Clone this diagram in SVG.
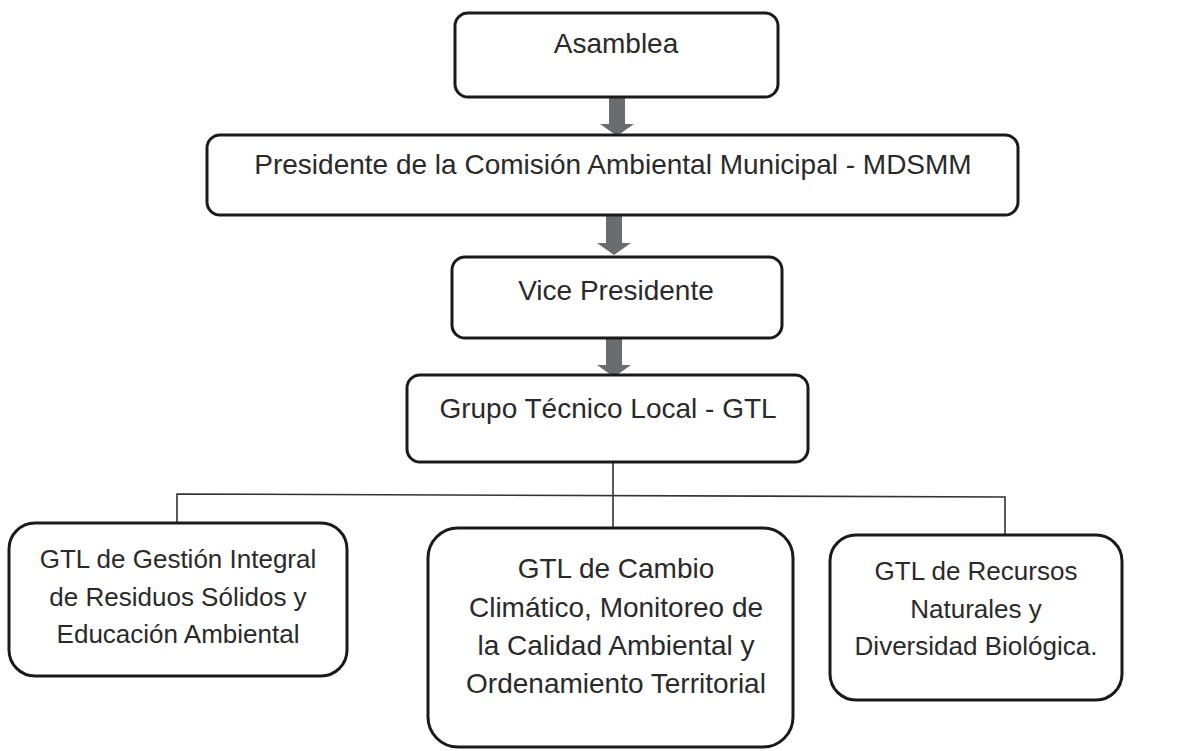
<svg xmlns="http://www.w3.org/2000/svg" width="1186" height="751" viewBox="0 0 1186 751">
<style>
.box{fill:#fff;stroke:#1a1a1a;stroke-width:3}
.t{font-family:"Liberation Sans",Arial,sans-serif;font-size:28px;fill:#2a2a2a;text-anchor:middle}
.s{font-size:26px}
.ln{fill:none;stroke:#333;stroke-width:1.6}
.arr{fill:#6a6d70}
</style>
<defs>
<path id="arrow" class="arr" d="M-8,0 H8 V27 H17 L0,39 L-17,27 H-8 Z"/>
</defs>
<rect width="1186" height="751" fill="#fff"/>
<g id="connectors">
<use href="#arrow" x="617" y="97"/>
<use href="#arrow" x="614" y="216"/>
<use href="#arrow" x="614" y="338"/>
<path class="ln" d="M613,462 V528"/>
<path class="ln" d="M177,523 V494 L1005,497 V535"/>
</g>
<g id="asamblea">
<rect class="box" x="455" y="13" width="323" height="84" rx="13"/>
<text class="t" x="616" y="53">Asamblea</text>
</g>
<g id="presidente">
<rect class="box" x="207" y="135" width="811" height="80" rx="13"/>
<text class="t" x="613" y="174">Presidente de la Comisión Ambiental Municipal - MDSMM</text>
</g>
<g id="vicepresidente">
<rect class="box" x="452" y="257" width="330" height="81" rx="13"/>
<text class="t" x="616" y="300">Vice Presidente</text>
</g>
<g id="gtl">
<rect class="box" x="407" y="375" width="401" height="87" rx="13"/>
<text class="t" x="608" y="418">Grupo Técnico Local - GTL</text>
</g>
<g id="gtl-residuos">
<rect class="box" x="9" y="523" width="338" height="153" rx="26"/>
<text class="t s" x="178" y="568">GTL de Gestión Integral</text>
<text class="t s" x="178" y="606">de Residuos Sólidos y</text>
<text class="t s" x="178" y="643">Educación Ambiental</text>
</g>
<g id="gtl-cambio">
<rect class="box" x="428" y="528" width="365" height="219" rx="30"/>
<text class="t" x="616" y="578">GTL de Cambio</text>
<text class="t" x="616" y="617">Climático, Monitoreo de</text>
<text class="t" x="616" y="655">la Calidad Ambiental y</text>
<text class="t" x="616" y="693">Ordenamiento Territorial</text>
</g>
<g id="gtl-recursos">
<rect class="box" x="830" y="535" width="292" height="165" rx="26"/>
<text class="t s" x="976" y="580">GTL de Recursos</text>
<text class="t s" x="976" y="618">Naturales y</text>
<text class="t s" x="976" y="655">Diversidad Biológica.</text>
</g>
</svg>
